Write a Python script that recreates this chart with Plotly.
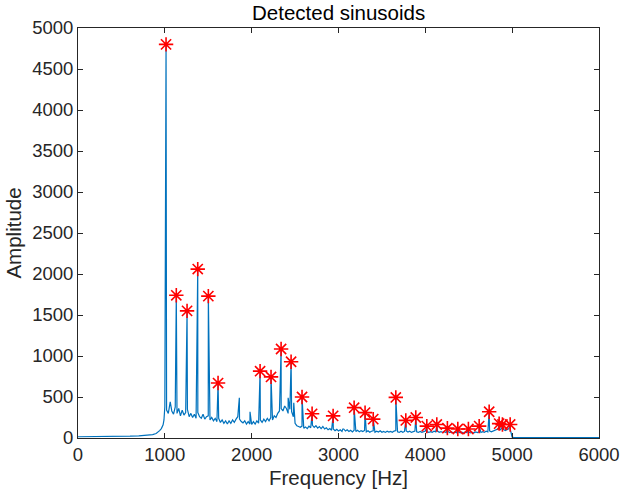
import plotly.graph_objects as go

# ---- data ----
# low-frequency part of the spectrum (Hz, amplitude)
low_freq = [0, 100, 200, 300, 400, 500, 600, 700, 800, 860, 900, 920, 940, 960, 980, 990]
low_amp = [15, 15, 16, 17, 18, 20, 22, 26, 33, 42, 55, 70, 90, 115, 160, 220]

# noisy floor between 1000 and 4980 Hz, one value every 20 Hz
floor_start = 1000
floor_step = 20
floor_amp = [
    380, 340, 300, 420, 330, 290, 380, 300, 360, 270,
    340, 280, 310, 350, 260, 300, 250, 290, 240, 310,
    260, 240, 290, 230, 260, 270, 220, 250, 210, 240,
    200, 240, 190, 220, 180, 210, 170, 210, 180, 220,
    190, 230, 260, 230, 200, 185, 210, 170, 200, 170,
    165, 200, 170, 210, 180, 220, 190, 230, 200, 240,
    210, 250, 220, 270, 250, 300, 330, 360, 330, 390,
    360, 300, 350, 320, 260, 180, 150, 140, 130, 145,
    120, 135, 115, 145, 125, 155, 130, 150, 120, 140,
    115, 140, 110, 125, 100, 115, 95, 110, 90, 105,
    85, 100, 80, 110, 85, 100, 80, 95, 75, 95,
    80, 95, 75, 90, 78, 92, 75, 88, 70, 82,
    88, 70, 82, 72, 88, 70, 80, 68, 82, 72,
    80, 70, 84, 92, 75, 68, 82, 70, 80, 86,
    72, 82, 68, 78, 84, 75, 68, 80, 70, 78,
    84, 75, 68, 78, 70, 82, 74, 84, 70, 78,
    68, 76, 66, 80, 65, 74, 64, 72, 65, 76,
    64, 72, 62, 74, 65, 72, 62, 70, 64, 74,
    66, 76, 68, 78, 70, 82, 74, 86, 76, 84,
    90, 100, 112, 95, 118, 105, 92, 102, 112, 96,
]

# high-frequency part (after the cut-off)
high_freq = [5000, 5020, 5200, 5400, 5600, 5800, 6000]
high_amp = [10, 6, 5, 5, 5, 5, 5]

# small undetected spikes
minor_freq = [1062, 1858, 1981, 2420, 2485, 3050]
minor_amp = [440, 490, 320, 490, 430, 110]

# detected sinusoids (red stars)
peak_freq = [1014, 1132, 1256, 1379, 1501, 1613, 2097, 2223, 2339, 2454,
             2580, 2696, 2938, 3180, 3306, 3400, 3660, 3775, 3890, 4017,
             4132, 4254, 4374, 4496, 4620, 4735, 4850, 4888, 4977]
peak_amp = [4800, 1740, 1550, 2060, 1730, 670, 815, 745, 1085, 930,
            500, 295, 270, 370, 310, 230, 495, 215, 250, 145,
            165, 120, 110, 110, 145, 320, 175, 165, 165]

# ---- assemble the spectrum line ----
floor_freq = [floor_start + i * floor_step for i in range(len(floor_amp))]
pts = list(zip(low_freq, low_amp)) + list(zip(floor_freq, floor_amp)) \
    + list(zip(high_freq, high_amp)) + list(zip(minor_freq, minor_amp)) \
    + list(zip(peak_freq, peak_amp))
pts.sort(key=lambda p: p[0])
line_x = [p[0] for p in pts]
line_y = [p[1] for p in pts]

FONT = "Liberation Sans, Arial, sans-serif"
AX = "#262626"

fig = go.Figure()
fig.add_trace(go.Scatter(x=line_x, y=line_y, mode="lines",
                         line=dict(color="#0072BD", width=1.2),
                         hoverinfo="skip", showlegend=False))
fig.add_trace(go.Scatter(x=peak_freq, y=peak_amp, mode="markers",
                         marker=dict(symbol="asterisk-open", size=12,
                                     color="red",
                                     line=dict(color="#FF0000", width=1.6)),
                         showlegend=False))

axis_common = dict(showgrid=False, zeroline=False, showline=True,
                   linecolor=AX, linewidth=1, mirror="ticks",
                   ticks="inside", ticklen=5, tickcolor=AX, tickwidth=1,
                   automargin=False,
                   tickfont=dict(family=FONT, size=18.5, color=AX))

fig.update_layout(
    width=623, height=495,
    margin=dict(l=78, r=24, t=28, b=57),
    paper_bgcolor="white", plot_bgcolor="white",
    title=dict(text="Detected sinusoids", x=0.5435, xanchor="center",
               y=0.974, yanchor="middle",
               font=dict(family=FONT, size=20.5, color="#000000")),
    xaxis=dict(range=[0, 6000], tickmode="array",
               tickvals=[0, 1000, 2000, 3000, 4000, 5000, 6000],
               title=dict(text="Frequency [Hz]", standoff=6,
                          font=dict(family=FONT, size=20.5, color=AX)),
               **axis_common),
    yaxis=dict(range=[0, 5000], tickmode="array",
               tickvals=list(range(0, 5001, 500)),
               title=dict(text="Amplitude", standoff=4,
                          font=dict(family=FONT, size=20.5, color=AX)),
               **axis_common),
)

fig.write_html("out.html")
